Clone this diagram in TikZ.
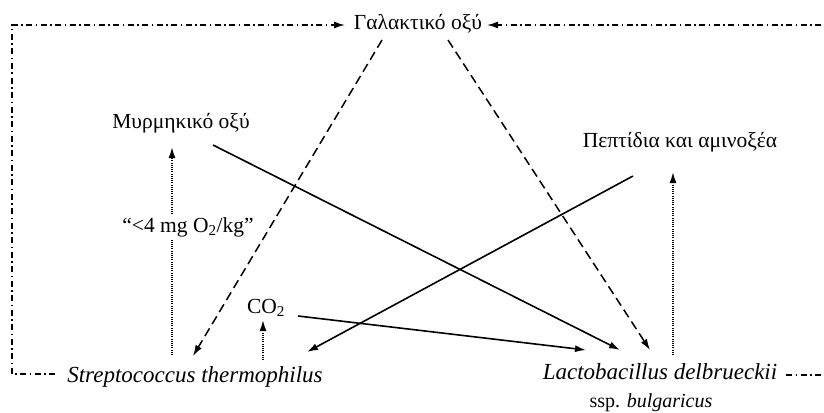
\documentclass[tikz,border=0pt]{standalone}
\usepackage{fontspec}
\setmainfont{Liberation Serif}
\usetikzlibrary{arrows.meta,calc}
\begin{document}
\begin{tikzpicture}[x=1pt,y=-1pt,
  lbl/.style={inner sep=0pt,anchor=base,font=\fontsize{21.5}{26}\selectfont},
  itlbl/.style={lbl,font=\fontsize{23}{27}\selectfont\itshape},
  tip/.style={-{Latex[length=11pt,width=7pt]}},
  solidc/.style={tip,line width=1.6pt},
  dashc/.style={tip,line width=1.5pt,dash pattern=on 9pt off 5pt},
  dotc/.style={tip,line width=1.6pt,dash pattern=on 1pt off 1.2pt},
  dashdotc/.style={tip,line width=1.5pt,dash pattern=on 6pt off 3.5pt on 1.5pt off 3.5pt}]
\useasboundingbox (0,0) rectangle (824,412);
\clip (0,0) rectangle (824,412);
\node[lbl] (gal) at (418,30) {Γαλακτικό οξύ};
\node[lbl] (murm) at (181,128) {Μυρμηκικό οξύ};
\node[lbl] (pept) at (680,147) {Πεπτίδια και αμινοξέα};
\node[lbl] (co2) at (266,313) {CO\textsubscript{2}};
\node[itlbl] (strep) at (195,382) {Streptococcus thermophilus};
\node[itlbl] (lacto) at (660,379) {Lactobacillus delbrueckii};
\node[lbl,font=\fontsize{20}{24}\selectfont] (ssp) at (651,407) {ssp. \textit{bulgaricus}};
% dashed
\draw[dashc] ($(gal.base)+(-36,10)$) -- ($(strep.base)+(-2,-26)$);
\draw[dashc] ($(gal.base)+(30,10)$) -- ($(lacto.base)+(-10,-29)$);
% solid
\draw[solidc] ($(murm.base)+(32,17)$) -- ($(lacto.base)+(-40,-29)$);
\draw[solidc] ($(pept.base)+(-47,29)$) -- ($(strep.base)+(112,-30)$);
\draw[solidc] ($(co2.base)+(32,3)$) -- ($(lacto.base)+(-74,-29)$);
% dotted
\draw[dotc] ($(strep.base)+(-23,-27)$) -- ($(murm.base)+(-9,19)$);
\draw[dotc] ($(strep.base)+(68,-22)$) -- ($(co2.base)+(-3,7)$);
\draw[dotc] ($(lacto.base)+(13,-24)$) -- ($(pept.base)+(-7,25)$);
% dash-dot loops
\draw[dashdotc] ($(strep.base)+(-140,-8)$) -- ++(-43,0) |- ($(gal.base)+(-73,-5)$);
\draw[dashdotc] ($(lacto.base)+(126,-4)$) -- ++(60,0) |- ($(gal.base)+(69,-5)$);
\node[lbl,fill=white,inner sep=3pt] (o2) at (188,232) {“<4 mg O\textsubscript{2}/kg”};
\end{tikzpicture}
\end{document}
